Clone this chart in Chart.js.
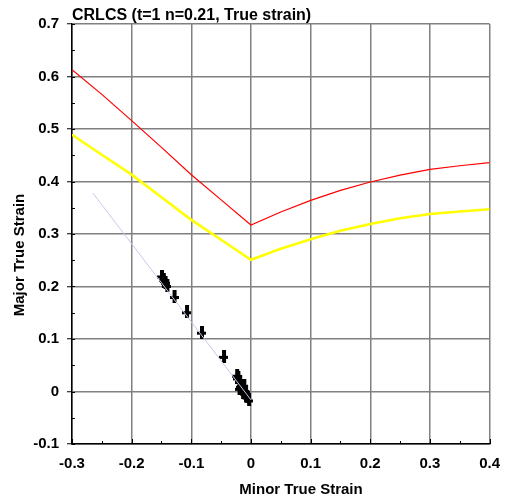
<!DOCTYPE html>
<html>
<head>
<meta charset="utf-8">
<script src="https://cdn.jsdelivr.net/npm/chart.js@4/dist/chart.umd.min.js"></script>
<style>
  body { margin: 0; background: #fff; }
  #wrap { width: 511px; height: 501px; }
</style>
</head>
<body>
<div id="wrap"><canvas id="mychart" width="511" height="501"></canvas></div>
<script>
// forming limit curves, x = minor strain
var minorStrain = [-0.3, -0.25, -0.2, -0.15, -0.1, -0.05, 0, 0.05, 0.1, 0.15, 0.2, 0.25, 0.3, 0.35, 0.4];
var flcUpper    = [0.613, 0.566, 0.516, 0.465, 0.413, 0.365, 0.317, 0.342, 0.364, 0.383, 0.399, 0.412, 0.423, 0.430, 0.436];
var flcLower    = [0.489, 0.451, 0.413, 0.370, 0.327, 0.289, 0.251, 0.272, 0.290, 0.306, 0.319, 0.330, 0.338, 0.343, 0.347];

// strain path (light line)
var pathMinor = [-0.265, 0.0];
var pathMajor = [0.378, -0.016];

// measured points
var measMinor = [-0.150, -0.147, -0.144, -0.141, -0.129, -0.108, -0.083, -0.046,
                 -0.024, -0.022, -0.019, -0.016, -0.013, -0.010, -0.007, -0.004,
                 -0.020, -0.018, -0.014, -0.012, -0.009];
var measMajor = [0.220, 0.214, 0.208, 0.202, 0.181, 0.152, 0.113, 0.067,
                 0.031, 0.026, 0.019, 0.012, 0.004, -0.003, -0.010, -0.016,
                 0.006, 0.010, -0.001, 0.012, 0.000];

var xTicks = [-0.3, -0.2, -0.1, 0, 0.1, 0.2, 0.3, 0.4];
var yTicks = [-0.1, 0, 0.1, 0.2, 0.3, 0.4, 0.5, 0.6, 0.7];

var titleText = 'CRLCS (t=1 n=0.21, True strain)';
var xTitle = 'Minor True Strain';
var yTitle = 'Major True Strain';

function toPoints(xs, ys) {
    var pts = [];
    for (var i = 0; i < xs.length; i++) {
        pts.push({x: xs[i], y: ys[i]});
    }
    return pts;
}

function fmt(v) {
    return String(Number(v.toFixed(1)));
}

// little plus-like marker, taller than wide
var marker = document.createElement('canvas');
marker.width = 9;
marker.height = 13;
var mctx = marker.getContext('2d');
mctx.fillStyle = '#000';
mctx.fillRect(3, 0, 4, 13);
mctx.fillRect(0, 6, 9, 3);

var boldFont = 'bold 15px "Liberation Sans", Arial, sans-serif';

// title, axis titles and inner tick marks
var decorations = {
    id: 'decorations',
    afterDraw: function(chart) {
        var ctx = chart.ctx;
        var area = chart.chartArea;
        var xs = chart.scales.x;
        var ys = chart.scales.y;
        ctx.save();
        ctx.strokeStyle = '#000';
        ctx.lineWidth = 1;
        // minor + major ticks inside the plot
        for (var v = -0.3; v <= 0.4001; v += 0.05) {
            var px = Math.round(xs.getPixelForValue(v)) + 0.5;
            var major = Math.abs(v * 10 - Math.round(v * 10)) < 0.01;
            ctx.beginPath();
            ctx.moveTo(px, area.bottom);
            ctx.lineTo(px, area.bottom - (major ? 5 : 3));
            ctx.stroke();
        }
        for (var w = -0.1; w <= 0.7001; w += 0.05) {
            var py = Math.round(ys.getPixelForValue(w)) + 0.5;
            ctx.beginPath();
            ctx.moveTo(area.left, py);
            ctx.lineTo(area.left + 3, py);
            ctx.stroke();
        }
        ctx.fillStyle = '#000';
        ctx.font = 'bold 16px "Liberation Sans", Arial, sans-serif';
        ctx.textAlign = 'left';
        ctx.textBaseline = 'alphabetic';
        ctx.fillText(titleText, area.left, 20);

        ctx.font = boldFont;
        ctx.textAlign = 'center';
        ctx.textBaseline = 'middle';
        ctx.fillText(xTitle, 301, 490);

        ctx.translate(20, 255);
        ctx.rotate(-Math.PI / 2);
        ctx.fillText(yTitle, 0, 0);
        ctx.restore();
    }
};

var ctx = document.getElementById('mychart').getContext('2d');
var chart = new Chart(ctx, {
    type: 'scatter',
    data: {
        datasets: [
            {
                label: 'Strain path',
                data: toPoints(pathMinor, pathMajor),
                showLine: true,
                borderColor: '#c8c8ee',
                borderWidth: 1,
                pointRadius: 0,
                order: 0
            },
            {
                label: 'Measured',
                data: toPoints(measMinor, measMajor),
                pointStyle: marker,
                pointRadius: 6,
                order: 1
            },
            {
                label: 'FLC',
                data: toPoints(minorStrain, flcUpper),
                showLine: true,
                borderColor: '#ff0000',
                borderWidth: 1.2,
                pointRadius: 0,
                order: 2
            },
            {
                label: 'FLC safe',
                data: toPoints(minorStrain, flcLower),
                showLine: true,
                borderColor: '#ffff00',
                borderWidth: 2.6,
                pointRadius: 0,
                order: 2
            }
        ]
    },
    options: {
        responsive: false,
        animation: false,
        layout: { padding: { top: 24, right: 18, left: 0, bottom: 0 } },
        plugins: {
            legend: { display: false },
            title: { display: false },
            tooltip: { enabled: false }
        },
        scales: {
            x: {
                type: 'linear',
                min: -0.3,
                max: 0.4,
                afterBuildTicks: function(scale) {
                    scale.ticks = xTicks.map(function(v) { return {value: v}; });
                },
                afterFit: function(scale) { scale.height = 57; },
                grid: { color: '#808080', lineWidth: 1.5, drawTicks: false },
                border: { color: '#000', width: 1.5 },
                ticks: {
                    padding: 11,
                    color: '#000',
                    font: { family: '"Liberation Sans", Arial, sans-serif', size: 15, weight: 'bold' },
                    callback: function(v) { return fmt(v); }
                }
            },
            y: {
                type: 'linear',
                min: -0.1,
                max: 0.7,
                afterBuildTicks: function(scale) {
                    scale.ticks = yTicks.map(function(v) { return {value: v}; });
                },
                afterFit: function(scale) { scale.width = 72; },
                grid: { color: '#808080', lineWidth: 1.5, tickLength: 5, tickColor: '#000', tickWidth: 1 },
                border: { color: '#000', width: 1.5 },
                ticks: {
                    padding: 8,
                    color: '#000',
                    font: { family: '"Liberation Sans", Arial, sans-serif', size: 15, weight: 'bold' },
                    callback: function(v) { return fmt(v); }
                }
            }
        }
    },
    plugins: [decorations]
});
</script>
</body>
</html>
